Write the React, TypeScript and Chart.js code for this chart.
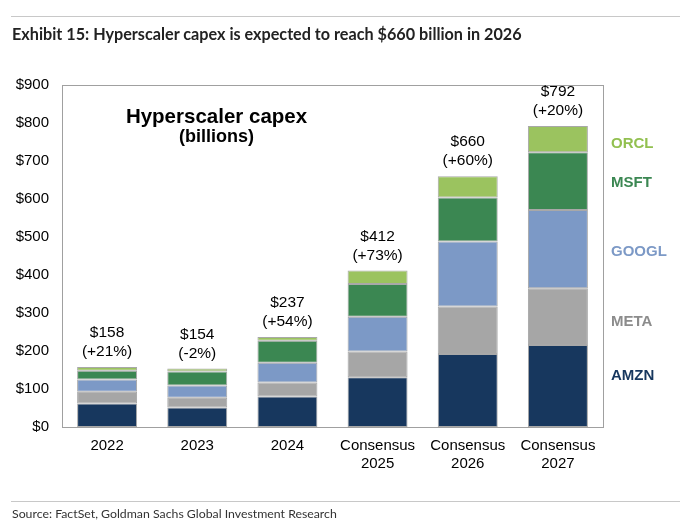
import React, { useEffect, useRef } from "react";
import { Chart, registerables } from "chart.js";

Chart.register(...registerables);

const categories: (string | string[])[] = [
  "2022",
  "2023",
  "2024",
  ["Consensus", "2025"],
  ["Consensus", "2026"],
  ["Consensus", "2027"],
];
const amzn = [62, 51, 80, 131, 192, 216];
const meta = [31, 26, 37, 68, 125, 149];
const googl = [32, 32, 52, 91, 171, 206];
const msft = [23, 37, 58, 86, 116, 152];
const orcl = [10, 8, 10, 36, 56, 69];
const growth = ["+21%", "-2%", "+54%", "+73%", "+60%", "+20%"];
const yTicks = [0, 100, 200, 300, 400, 500, 600, 700, 800, 900];

const FONT = "'Liberation Sans', Arial, sans-serif";

export default function App() {
  const ref = useRef<HTMLCanvasElement | null>(null);

  useEffect(() => {
    if (!ref.current) return;
    const series = [
      { label: "AMZN", data: amzn, color: "#17375e", text: "#17375e", y: 376 },
      { label: "META", data: meta, color: "#a6a6a6", text: "#8c8c8c", y: 322 },
      { label: "GOOGL", data: googl, color: "#7c99c6", text: "#7c99c6", y: 252 },
      { label: "MSFT", data: msft, color: "#3b8752", text: "#3b8752", y: 183 },
      { label: "ORCL", data: orcl, color: "#9bc35f", text: "#92c050", y: 144 },
    ];

    const overlay = {
      id: "overlay",
      afterDatasetsDraw(chart: any) {
        const { ctx, chartArea, scales } = chart;
        const xs = scales.x;
        const ys = scales.y;
        ctx.save();
        ctx.strokeStyle = "#a0a0a0";
        ctx.lineWidth = 1;
        ctx.strokeRect(
          Math.round(chartArea.left) + 0.5,
          Math.round(chartArea.top) + 0.5,
          Math.round(chartArea.right - chartArea.left),
          Math.round(chartArea.bottom - chartArea.top)
        );
        ctx.fillStyle = "#000";
        ctx.font = `15.5px ${FONT}`;
        ctx.textAlign = "center";
        ctx.textBaseline = "middle";
        categories.forEach((_, i) => {
          const total = series.reduce((s, d) => s + d.data[i], 0);
          const x = xs.getPixelForValue(i);
          const y = ys.getPixelForValue(total);
          ctx.fillText(`$${total}`, x, y - 34);
          ctx.fillText(`(${growth[i]})`, x, y - 15);
        });
        ctx.font = `bold 20.5px ${FONT}`;
        ctx.fillText("Hyperscaler capex", 216.5, 117);
        ctx.font = `bold 18px ${FONT}`;
        ctx.fillText("(billions)", 216.5, 137);
        ctx.textAlign = "left";
        ctx.font = `bold 15px ${FONT}`;
        series.forEach((s) => {
          ctx.fillStyle = s.text;
          ctx.fillText(s.label, 611, s.y);
        });
        ctx.restore();
      },
    };

    const chart = new Chart(ref.current, {
      type: "bar",
      data: {
        labels: categories,
        datasets: series.map((s) => ({
          label: s.label,
          data: s.data,
          backgroundColor: s.color,
          borderColor: "rgba(110,110,110,0.6)",
          borderWidth: 1,
          borderSkipped: false,
          barPercentage: 0.665,
          categoryPercentage: 1,
        })),
      },
      options: {
        animation: false,
        responsive: true,
        maintainAspectRatio: false,
        layout: { padding: { left: 0, top: 85, right: 77, bottom: 0 } },
        plugins: {
          legend: { display: false },
          title: { display: false },
          tooltip: { enabled: false },
        },
        scales: {
          x: {
            stacked: true,
            grid: { display: false, drawTicks: false },
            border: { display: false },
            ticks: {
              color: "#000",
              font: { family: FONT, size: 15 },
              padding: 10,
              maxRotation: 0,
              autoSkip: false,
            },
            afterFit: (scale: any) => {
              scale.height = 104;
            },
          },
          y: {
            stacked: true,
            min: 0,
            max: 900,
            grid: { display: false, drawTicks: false },
            border: { display: false },
            afterBuildTicks: (scale: any) => {
              scale.ticks = yTicks.map((v) => ({ value: v }));
            },
            ticks: {
              color: "#000",
              font: { family: FONT, size: 15 },
              padding: 13,
              callback: (v: any) => `$${v}`,
            },
            afterFit: (scale: any) => {
              scale.width = 62;
            },
          },
        },
      },
      plugins: [overlay],
    });
    return () => chart.destroy();
  }, []);

  return (
    <div
      style={{
        position: "absolute",
        left: 0,
        top: 0,
        width: 680,
        height: 531,
        background: "#fff",
        overflow: "hidden",
      }}
    >
      <canvas ref={ref} style={{ position: "absolute", left: 0, top: 0, width: 680, height: 531 }} />
      <div
        style={{
          position: "absolute",
          left: 11,
          right: 0,
          top: 16,
          height: 0,
          borderTop: "1.5px solid #c8c8c8",
        }}
      />
      <div
        style={{
          position: "absolute",
          left: 12,
          top: 24,
          fontFamily: "Lato, 'Open Sans', sans-serif",
          fontWeight: 700,
          fontSize: 16.2,
          lineHeight: "20px",
          color: "#222",
          whiteSpace: "nowrap",
        }}
      >
        Exhibit 15: Hyperscaler capex is expected to reach $660 billion in 2026
      </div>
      <div
        style={{
          position: "absolute",
          left: 11,
          right: 0,
          top: 501,
          height: 0,
          borderTop: "1px solid #c8c8c8",
        }}
      />
      <div
        style={{
          position: "absolute",
          left: 12,
          top: 507,
          fontFamily: "Lato, 'Open Sans', sans-serif",
          fontSize: 12.3,
          lineHeight: "14px",
          color: "#333",
          whiteSpace: "nowrap",
        }}
      >
        Source: FactSet, Goldman Sachs Global Investment Research
      </div>
    </div>
  );
}
